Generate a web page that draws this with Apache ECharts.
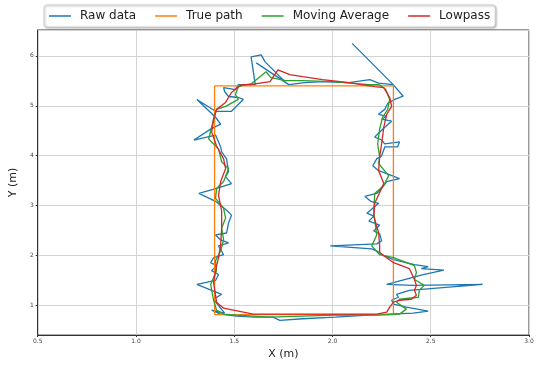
<!DOCTYPE html>
<html>
<head>
<meta charset="utf-8">
<script src="https://cdn.jsdelivr.net/npm/echarts/dist/echarts.min.js"></script>
<style>
html,body{margin:0;padding:0;background:#fff;}
#chart{width:548px;height:365px;}
</style>
</head>
<body>
<div id="chart"></div>
<script>
const seriesNames = ['Raw data', 'True path', 'Moving Average', 'Lowpass'];
const xTickLabels = ['0.5', '1.0', '1.5', '2.0', '2.5', '3.0'];
const yTickLabels = ['1', '2', '3', '4', '5', '6'];

const rawX = [2.100,2.309,2.360,2.316,2.281,2.266,2.234,2.276,2.250,2.301,2.266,2.215,2.250,2.266,2.341,2.331,2.266,2.250,2.225,2.205,2.235,2.276,2.341,2.276,2.250,2.225,2.165,2.195,2.235,2.175,2.210,2.185,2.240,2.210,2.240,2.250,2.225,1.989,2.200,2.235,2.261,2.311,2.417,2.487,2.452,2.567,2.462,2.276,2.411,2.764,2.391,2.326,2.336,2.301,2.311,2.376,2.487,2.411,2.225,2.014,1.848,1.732,1.697,1.606,1.511,1.430,1.385,1.451,1.395,1.436,1.385,1.310,1.405,1.420,1.385,1.410,1.380,1.395,1.446,1.420,1.471,1.431,1.405,1.461,1.471,1.486,1.461,1.436,1.405,1.320,1.410,1.486,1.456,1.471,1.461,1.436,1.431,1.405,1.295,1.380,1.431,1.405,1.310,1.405,1.486,1.546,1.521,1.471,1.451,1.446,1.506,1.521,1.607,1.586,1.637,1.657,1.763,1.612,1.778,1.858,1.949,2.084,2.190,2.235,2.306];
const rawY = [6.252,5.424,5.192,5.127,5.047,4.928,4.829,4.789,4.730,4.690,4.571,4.373,4.313,4.234,4.274,4.174,4.174,3.996,3.936,3.797,3.698,3.639,3.540,3.480,3.341,3.242,3.182,3.083,3.044,2.845,2.786,2.686,2.607,2.488,2.429,2.290,2.230,2.190,2.131,2.071,1.992,1.913,1.813,1.774,1.734,1.704,1.615,1.417,1.397,1.417,1.298,1.218,1.159,1.099,1.020,0.960,0.881,0.841,0.812,0.762,0.728,0.696,0.762,0.762,0.782,0.821,0.901,0.841,1.119,1.218,1.298,1.417,1.496,1.615,1.694,1.794,1.853,1.952,2.012,2.190,2.250,2.309,2.409,2.448,2.647,2.806,2.905,2.984,3.083,3.242,3.341,3.440,3.579,3.678,3.936,4.075,4.174,4.413,4.313,4.532,4.631,4.770,5.127,4.889,4.889,5.127,5.166,5.186,5.286,5.365,5.325,5.424,5.424,5.980,6.020,5.881,5.464,5.861,5.424,5.464,5.484,5.464,5.524,5.454,5.424];

const trueX = [1.40, 2.31, 2.31, 1.40, 1.40];
const trueY = [0.81, 0.81, 5.40, 5.40, 0.81];

const maX = [2.240,2.271,2.291,2.281,2.255,2.240,2.230,2.240,2.235,2.286,2.261,2.215,2.210,2.215,2.225,2.200,2.240,2.311,2.417,2.427,2.417,2.467,2.442,2.437,2.341,2.326,2.376,2.341,2.225,2.014,1.682,1.511,1.446,1.410,1.395,1.380,1.395,1.410,1.405,1.431,1.446,1.436,1.456,1.446,1.405,1.410,1.446,1.471,1.436,1.420,1.370,1.395,1.410,1.456,1.521,1.506,1.521,1.587,1.662,1.687,1.763,1.848,1.999,2.185,2.240];
const maY = [5.424,5.325,5.127,4.928,4.770,4.532,4.234,3.976,3.837,3.599,3.401,3.242,2.905,2.706,2.409,2.190,2.012,1.952,1.794,1.655,1.516,1.397,1.298,1.159,1.119,1.060,0.921,0.821,0.802,0.802,0.762,0.802,0.821,0.901,1.099,1.417,1.556,1.694,1.893,2.091,2.310,2.548,2.746,2.944,3.143,3.341,3.480,3.738,3.877,4.135,4.333,4.730,4.928,4.988,5.127,5.226,5.385,5.444,5.682,5.563,5.504,5.504,5.484,5.424,5.424];

const lpX = [2.261,2.291,2.301,2.276,2.261,2.250,2.240,2.235,2.261,2.215,2.210,2.235,2.240,2.240,2.311,2.391,2.417,2.427,2.417,2.427,2.401,2.341,2.311,2.291,2.276,2.225,2.125,1.848,1.597,1.496,1.446,1.410,1.405,1.395,1.405,1.420,1.431,1.436,1.436,1.420,1.431,1.456,1.446,1.410,1.385,1.395,1.410,1.456,1.486,1.536,1.581,1.682,1.722,1.783,1.848,1.949,2.084,2.215,2.261];
const lpY = [5.365,5.166,4.988,4.829,4.571,4.234,3.976,3.698,3.440,3.044,2.786,2.448,2.190,2.052,1.853,1.734,1.516,1.397,1.298,1.198,1.119,1.099,1.060,0.960,0.861,0.821,0.821,0.821,0.821,0.901,0.940,1.060,1.198,1.456,1.694,1.952,2.210,2.548,2.885,3.202,3.480,3.738,3.936,4.194,4.472,4.730,4.928,5.067,5.266,5.424,5.424,5.484,5.722,5.623,5.583,5.524,5.464,5.385,5.365];

function pairs(xs, ys) { return xs.map((x, i) => [x, ys[i]]); }

const colors = ['#1f77b4', '#ff7f0e', '#2ca02c', '#d62728'];
const chart = echarts.init(document.getElementById('chart'), null, {renderer: 'canvas'});

function lineSeries(name, xs, ys, color, z) {
  return {
    name: name, type: 'line', data: pairs(xs, ys),
    symbol: 'none', showSymbol: false, smooth: false, z: z,
    lineStyle: {color: color, width: 1.3}, itemStyle: {color: color},
    emphasis: {disabled: true}
  };
}

chart.setOption({
  animation: false,
  backgroundColor: '#ffffff',
  textStyle: {fontFamily: 'DejaVu Sans'},
  grid: {left: 32, right: 19, top: 30, bottom: 27, show: true, borderColor: '#333', borderWidth: 1, backgroundColor: 'transparent'},
  legend: {
    data: seriesNames,
    left: 44, top: 5,
    padding: [5, 5, 5, 5],
    icon: 'rect',
    itemGap: 19, itemWidth: 22, itemHeight: 1.5,
    borderColor: '#cccccc', borderWidth: 1, borderRadius: 3,
    backgroundColor: '#ffffff',
    shadowColor: 'rgba(0,0,0,0.25)', shadowBlur: 2, shadowOffsetX: 1, shadowOffsetY: 1,
    textStyle: {fontSize: 12, color: '#222', fontFamily: 'DejaVu Sans', padding: [0, 0, 0, 4]}
  },
  xAxis: {
    type: 'value', min: 0.5, max: 3.0, interval: 0.5,
    name: 'X (m)', nameLocation: 'middle', nameGap: 13,
    nameTextStyle: {fontSize: 11, color: '#222', fontFamily: 'DejaVu Sans'},
    axisLine: {show: true, lineStyle: {color: '#333', width: 1}},
    axisTick: {show: true, length: 2, lineStyle: {color: '#333'}},
    axisLabel: {fontSize: 6, color: '#444', margin: 3,
      formatter: v => xTickLabels[Math.round((v - 0.5) / 0.5)] || ''},
    splitLine: {show: true, lineStyle: {color: '#d3d3d3', width: 1}}
  },
  yAxis: {
    type: 'value', min: 0.4, max: 6.52,
    name: 'Y (m)', nameLocation: 'middle', nameGap: 13,
    nameTextStyle: {fontSize: 11, color: '#222', fontFamily: 'DejaVu Sans'},
    axisLine: {show: true, lineStyle: {color: '#333', width: 1}},
    axisTick: {show: true, length: 2, lineStyle: {color: '#333'}},
    axisLabel: {fontSize: 6, color: '#444', margin: 4, showMinLabel: false, showMaxLabel: false,
      formatter: v => (Math.abs(v - Math.round(v)) < 1e-6 ? (yTickLabels[Math.round(v) - 1] || '') : '')},
    splitLine: {show: true, lineStyle: {color: '#d3d3d3', width: 1}}
  },
  series: [
    lineSeries(seriesNames[0], rawX, rawY, colors[0], 2),
    lineSeries(seriesNames[1], trueX, trueY, colors[1], 3),
    lineSeries(seriesNames[2], maX, maY, colors[2], 4),
    lineSeries(seriesNames[3], lpX, lpY, colors[3], 5)
  ]
});
</script>
</body>
</html>
